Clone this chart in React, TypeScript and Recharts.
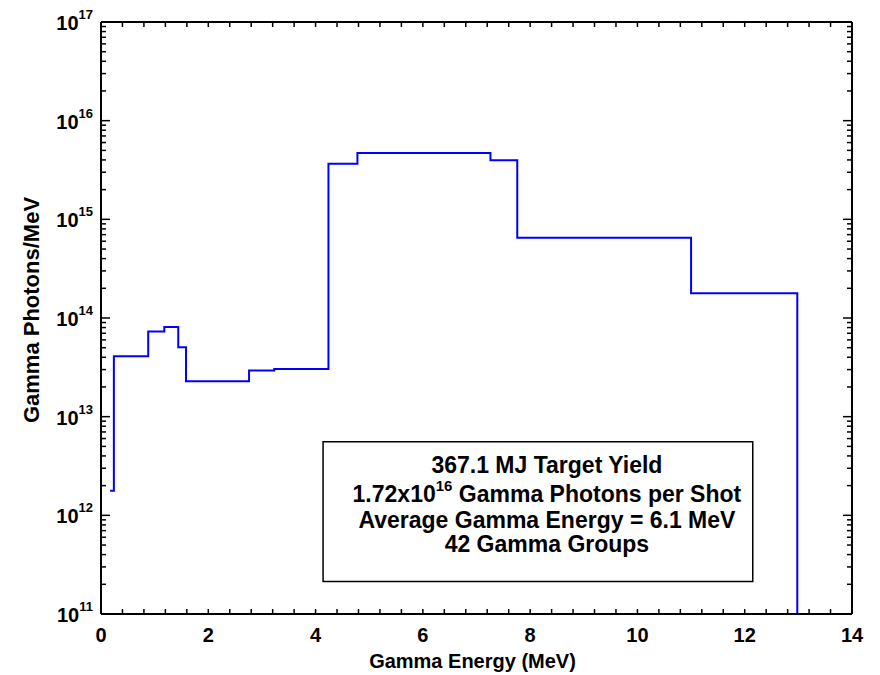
import React from 'react';
import { LineChart, Line, XAxis, YAxis, ReferenceArea } from 'recharts';

// Lower edge of each plotted step (MeV) and its height (photons/MeV)
const binStart = [0.17, 0.24, 0.88, 1.18, 1.44, 1.585, 2.76, 3.23, 4.24, 4.78, 7.26, 7.76, 11.0, 12.98];
const photons = [1.77e12, 4.1e13, 7.3e13, 8.1e13, 5.05e13, 2.28e13, 2.93e13, 3.04e13, 3.66e15, 4.7e15, 3.96e15, 6.5e14, 1.78e14, 1e11];

const xTicks = [0, 0.4, 0.8, 1.2, 1.6, 2, 2.4, 2.8, 3.2, 3.6, 4, 4.4, 4.8, 5.2, 5.6, 6, 6.4, 6.8, 7.2, 7.6, 8, 8.4, 8.8, 9.2, 9.6, 10, 10.4, 10.8, 11.2, 11.6, 12, 12.4, 12.8, 13.2, 13.6, 14];
const yDecades = [11, 12, 13, 14, 15, 16];
const yMultipliers = [1, 2, 3, 4, 5, 6, 7, 8, 9];
const yTicks = [...yDecades.flatMap((d) => yMultipliers.map((m) => m * Math.pow(10, d))), 1e17];

const noteLines = ['367.1 MJ Target Yield', 'Gamma Photons per Shot', 'Average Gamma Energy = 6.1 MeV', '42 Gamma Groups'];
const noteBox = { x1: 4.14, x2: 12.15, y1: 2.13e11, y2: 5.58e12 };

const data = binStart.map((x, i) => ({ x, y: photons[i] }));

const FONT = '"Liberation Sans", Arial, Helvetica, sans-serif';

const isEvenInt = (v: number) => Math.abs(v - Math.round(v)) < 1e-6 && Math.round(v) % 2 === 0;
const isDecade = (v: number) => {
  const e = Math.log10(v);
  return Math.abs(e - Math.round(e)) < 1e-6;
};

const BottomTick = (p: any) => {
  const { x, y, payload } = p;
  const v = payload.value;
  return (
    <g>
      <line x1={x} x2={x} y1={y} y2={y - 5} stroke="#000" strokeWidth={1.5} />
      {isEvenInt(v) && (
        <text x={x} y={y + 28} textAnchor="middle" fontFamily={FONT} fontWeight="bold" fontSize={20} fill="#000">
          {Math.round(v)}
        </text>
      )}
    </g>
  );
};

const TopTick = (p: any) => {
  const { x, y } = p;
  return <line x1={x} x2={x} y1={y} y2={y + 5} stroke="#000" strokeWidth={1.5} />;
};

const LeftTick = (p: any) => {
  const { x, y, payload } = p;
  const v = payload.value;
  const major = isDecade(v);
  return (
    <g>
      <line x1={x} x2={x + (major ? 9 : 5)} y1={y} y2={y} stroke="#000" strokeWidth={1.5} />
      {major && (
        <text x={x - 8} y={y + 8} textAnchor="end" fontFamily={FONT} fontWeight="bold" fontSize={20} fill="#000">
          10
          <tspan dy={-11} fontSize={13}>
            {Math.round(Math.log10(v))}
          </tspan>
        </text>
      )}
    </g>
  );
};

const RightTick = (p: any) => {
  const { x, y, payload } = p;
  const major = isDecade(payload.value);
  return <line x1={x} x2={x - (major ? 9 : 5)} y1={y} y2={y} stroke="#000" strokeWidth={1.5} />;
};

const XTitle = (p: any) => {
  const vb = p.viewBox;
  return (
    <text x={vb.x + vb.width / 2 - 4} y={vb.y + 54} textAnchor="middle" fontFamily={FONT} fontWeight="bold" fontSize={20} fill="#000">
      Gamma Energy (MeV)
    </text>
  );
};

const YTitle = (p: any) => {
  const vb = p.viewBox;
  const cx = vb.x + 39;
  const cy = vb.y + vb.height / 2 - 8;
  return (
    <text x={cx} y={cy} transform={`rotate(-90, ${cx}, ${cy})`} textAnchor="middle" fontFamily={FONT} fontWeight="bold" fontSize={22} fill="#000">
      Gamma Photons/MeV
    </text>
  );
};

const NoteLabel = (p: any) => {
  const vb = p.viewBox;
  const cx = vb.x + vb.width / 2 + 9;
  const common = { textAnchor: 'middle' as const, fontFamily: FONT, fontWeight: 'bold', fontSize: 23, fill: '#000' };
  return (
    <g>
      <text x={cx} y={vb.y + 31} {...common}>{noteLines[0]}</text>
      <text x={cx} y={vb.y + 60} {...common}>
        1.72x10<tspan dy={-11} fontSize={15}>16</tspan>
        <tspan dy={11}> {noteLines[1]}</tspan>
      </text>
      <text x={cx} y={vb.y + 86} {...common}>{noteLines[2]}</text>
      <text x={cx} y={vb.y + 110} {...common}>{noteLines[3]}</text>
    </g>
  );
};

export default function App() {
  return (
    <div style={{ position: 'absolute', left: 0, top: 0, width: 880, height: 675, background: '#fff' }}>
      <LineChart width={880} height={675} data={data} margin={{ top: 21, right: 27, bottom: 0, left: 0 }}>
        <XAxis
          xAxisId="b"
          dataKey="x"
          type="number"
          domain={[0, 14]}
          ticks={xTicks}
          interval={0}
          height={61}
          tickSize={0}
          tickMargin={0}
          tickLine={false}
          tick={BottomTick}
          axisLine={{ stroke: '#000', strokeWidth: 2 }}
          allowDataOverflow
          label={{ content: XTitle }}
        />
        <XAxis
          xAxisId="t"
          dataKey="x"
          orientation="top"
          type="number"
          domain={[0, 14]}
          ticks={xTicks}
          interval={0}
          height={1}
          tickSize={0}
          tickMargin={0}
          tickLine={false}
          tick={TopTick}
          axisLine={{ stroke: '#000', strokeWidth: 2 }}
          allowDataOverflow
        />
        <YAxis
          yAxisId="l"
          type="number"
          scale="log"
          domain={[1e11, 1e17]}
          ticks={yTicks}
          interval={0}
          width={101}
          tickSize={0}
          tickMargin={0}
          tickLine={false}
          tick={LeftTick}
          axisLine={{ stroke: '#000', strokeWidth: 2 }}
          allowDataOverflow
          label={{ content: YTitle }}
        />
        <YAxis
          yAxisId="r"
          orientation="right"
          type="number"
          scale="log"
          domain={[1e11, 1e17]}
          ticks={yTicks}
          interval={0}
          width={1}
          tickSize={0}
          tickMargin={0}
          tickLine={false}
          tick={RightTick}
          axisLine={{ stroke: '#000', strokeWidth: 2 }}
          allowDataOverflow
        />
        <ReferenceArea
          xAxisId="b"
          yAxisId="l"
          x1={noteBox.x1}
          x2={noteBox.x2}
          y1={noteBox.y1}
          y2={noteBox.y2}
          fill="#fff"
          fillOpacity={1}
          stroke="#000"
          strokeWidth={1.5}
          label={{ content: NoteLabel }}
        />
        <Line
          xAxisId="t"
          yAxisId="r"
          dataKey="y"
          stroke="none"
          dot={false}
          activeDot={false}
          legendType="none"
          isAnimationActive={false}
        />
        <Line
          xAxisId="b"
          yAxisId="l"
          dataKey="y"
          type="stepAfter"
          stroke="#0000ff"
          strokeWidth={2}
          dot={false}
          activeDot={false}
          isAnimationActive={false}
        />
      </LineChart>
    </div>
  );
}
